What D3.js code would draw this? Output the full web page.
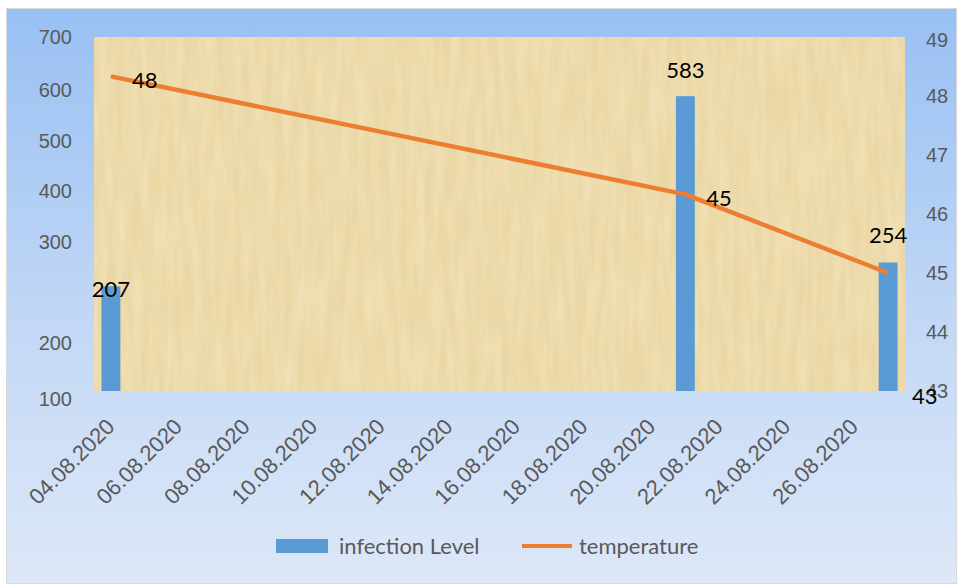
<!DOCTYPE html>
<html>
<head>
<meta charset="utf-8">
<script src="https://cdn.jsdelivr.net/npm/d3@7"></script>
<style>
  html, body { margin: 0; padding: 0; background: #ffffff; }
  svg { display: block; font-family: Lato, "Open Sans", sans-serif; }
</style>
</head>
<body>
<svg id="chart" width="957" height="584"></svg>
<script>
// Daily categories shown on the date axis
const days = ["04.08.2020","05.08.2020","06.08.2020","07.08.2020","08.08.2020","09.08.2020",
  "10.08.2020","11.08.2020","12.08.2020","13.08.2020","14.08.2020","15.08.2020",
  "16.08.2020","17.08.2020","18.08.2020","19.08.2020","20.08.2020","21.08.2020",
  "22.08.2020","23.08.2020","24.08.2020","25.08.2020","26.08.2020","27.08.2020"];
const dateLabels = ["04.08.2020","06.08.2020","08.08.2020","10.08.2020","12.08.2020","14.08.2020",
  "16.08.2020","18.08.2020","20.08.2020","22.08.2020","24.08.2020","26.08.2020"];

// Observations
const obsDates = ["04.08.2020","21.08.2020","27.08.2020"];
const infectionLevel = [207, 583, 254];
const temperature = [48, 45, 43];

// Axis labels
const leftTickValues = [700, 600, 500, 400, 300, 100, 0];
const leftTickLabels = ["700", "600", "500", "400", "300", "200", "100"];
const rightTicks = [43, 44, 45, 46, 47, 48, 49];

const seriesNames = ["infection Level", "temperature"];
const barColor = "#5b9bd5";
const lineColor = "#ed7d31";

const svg = d3.select("#chart");
const W = 957, H = 584;
const plot = { left: 94, right: 905, top: 37, bottom: 391 };

const defs = svg.append("defs");
const bg = defs.append("linearGradient").attr("id", "bgGrad")
  .attr("x1", 0).attr("y1", 0).attr("x2", 0).attr("y2", 1);
bg.append("stop").attr("offset", "0%").attr("stop-color", "#98c0f3");
bg.append("stop").attr("offset", "60%").attr("stop-color", "#c6daf6");
bg.append("stop").attr("offset", "100%").attr("stop-color", "#dde8f8");

// fibrous papyrus-like texture for the plot area
const tex = defs.append("filter").attr("id", "papyrus")
  .attr("x", 0).attr("y", 0).attr("width", 1).attr("height", 1);
tex.append("feTurbulence").attr("type", "fractalNoise")
  .attr("baseFrequency", "0.015 0.12").attr("numOctaves", 3).attr("seed", 7).attr("result", "n1");
tex.append("feColorMatrix").attr("in", "n1").attr("type", "matrix")
  .attr("values", "0 0 0 0 0.78  0 0 0 0 0.66  0 0 0 0 0.42  0 0 0 -1.4 1.1")
  .attr("result", "c1");
tex.append("feTurbulence").attr("type", "fractalNoise")
  .attr("baseFrequency", "0.12 0.015").attr("numOctaves", 3).attr("seed", 3).attr("result", "n2");
tex.append("feColorMatrix").attr("in", "n2").attr("type", "matrix")
  .attr("values", "0 0 0 0 0.98  0 0 0 0 0.90  0 0 0 0 0.70  0 0 0 -1.4 1.05")
  .attr("result", "c2");
tex.append("feMerge").selectAll("feMergeNode").data(["c1", "c2"]).join("feMergeNode")
  .attr("in", d => d);

// chart background
svg.append("rect").attr("x", 6.5).attr("y", 8.5).attr("width", W - 7).attr("height", H - 9)
  .attr("fill", "url(#bgGrad)").attr("stroke", "#d9d9d9");

// plot area
svg.append("rect").attr("x", plot.left).attr("y", plot.top)
  .attr("width", plot.right - plot.left).attr("height", plot.bottom - plot.top)
  .attr("fill", "#ebd7a2");
svg.append("rect").attr("x", plot.left).attr("y", plot.top)
  .attr("width", plot.right - plot.left).attr("height", plot.bottom - plot.top)
  .attr("fill", "#000").attr("filter", "url(#papyrus)").attr("opacity", 0.4);

// scales
const x = d3.scaleBand().domain(days).range([plot.left, plot.right]).paddingInner(0).paddingOuter(0);
const yBar = d3.scaleLinear().domain([0, 700]).range([plot.bottom, plot.top]);
const yLine = d3.scaleLinear().domain([40, 49]).range([plot.bottom, plot.top]);
const yRight = d3.scaleLinear().domain([43, 49]).range([plot.bottom, plot.top]);
const cx = d => x(d) + x.bandwidth() / 2;

const axisColor = "#595959";
const tickFont = 20;

// left axis
const leftAxis = d3.axisLeft(yBar).tickValues(leftTickValues)
  .tickFormat((d, i) => leftTickLabels[i]).tickSize(0).tickPadding(0);
const gl = svg.append("g").attr("transform", `translate(72,0)`).call(leftAxis);
gl.select(".domain").remove();
gl.selectAll("text").attr("fill", axisColor).style("font-size", tickFont + "px")
  .attr("dy", (d, i) => i === 0 ? "0.32em" : (i === leftTickValues.length - 1 ? "0.7em" : "0.45em"));

// right axis
const rightAxis = d3.axisRight(yRight).tickValues(rightTicks).tickFormat(d3.format("d"))
  .tickSize(0).tickPadding(0);
const gr = svg.append("g").attr("transform", `translate(926,0)`).call(rightAxis);
gr.select(".domain").remove();
gr.selectAll("text").attr("fill", axisColor).style("font-size", tickFont + "px")
  .attr("dy", (d, i) => i === rightTicks.length - 1 ? "0.45em" : "0.32em");

// date axis labels
const xAxis = d3.axisBottom(x).tickValues(dateLabels).tickSize(0).tickPadding(0);
const gx = svg.append("g").attr("transform", `translate(0,${plot.bottom})`).call(xAxis);
gx.select(".domain").remove();
gx.selectAll("text").attr("fill", axisColor).style("font-size", "22px")
  .attr("text-anchor", "end").attr("dy", 0).attr("y", 0)
  .attr("transform", "translate(5,37) rotate(-45)");

// bars
const barW = x.bandwidth() * 0.56;
svg.append("g").selectAll("rect").data(infectionLevel).join("rect")
  .attr("x", (d, i) => cx(obsDates[i]) - barW / 2)
  .attr("y", d => yBar(d))
  .attr("width", barW)
  .attr("height", d => yBar(0) - yBar(d))
  .attr("fill", barColor);

// line
const line = d3.line().x((d, i) => cx(obsDates[i])).y(d => yLine(d));
svg.append("path").datum(temperature).attr("d", line)
  .attr("fill", "none").attr("stroke", lineColor).attr("stroke-width", 4.5)
  .attr("stroke-linejoin", "round");

// data labels
const labelFont = 22;
const barLift = [-3, 26, 27];
svg.append("g").selectAll("text").data(infectionLevel).join("text")
  .attr("x", (d, i) => cx(obsDates[i]))
  .attr("y", (d, i) => yBar(d) - barLift[i])
  .attr("dy", "0.35em").attr("text-anchor", "middle")
  .style("font-size", labelFont + "px").attr("fill", "#000")
  .text(d => d);

svg.append("g").selectAll("text").data(temperature).join("text")
  .attr("x", (d, i) => cx(obsDates[i]) + (i === temperature.length - 1 ? 24 : 21))
  .attr("y", (d, i) => i === temperature.length - 1 ? plot.bottom + 5 : yLine(d) + 4)
  .attr("dy", "0.35em").attr("text-anchor", "start")
  .style("font-size", labelFont + "px").attr("fill", "#000")
  .text(d => d);

// legend
const lg = svg.append("g");
lg.append("rect").attr("x", 276).attr("y", 539).attr("width", 52).attr("height", 14).attr("fill", barColor);
lg.append("text").attr("x", 339).attr("y", 546).attr("dy", "0.35em")
  .style("font-size", "22px").attr("fill", axisColor).text(seriesNames[0]);
lg.append("line").attr("x1", 522).attr("x2", 572).attr("y1", 546).attr("y2", 546)
  .attr("stroke", lineColor).attr("stroke-width", 4);
lg.append("text").attr("x", 579).attr("y", 546).attr("dy", "0.35em")
  .style("font-size", "22px").attr("fill", axisColor).text(seriesNames[1]);
</script>
</body>
</html>
